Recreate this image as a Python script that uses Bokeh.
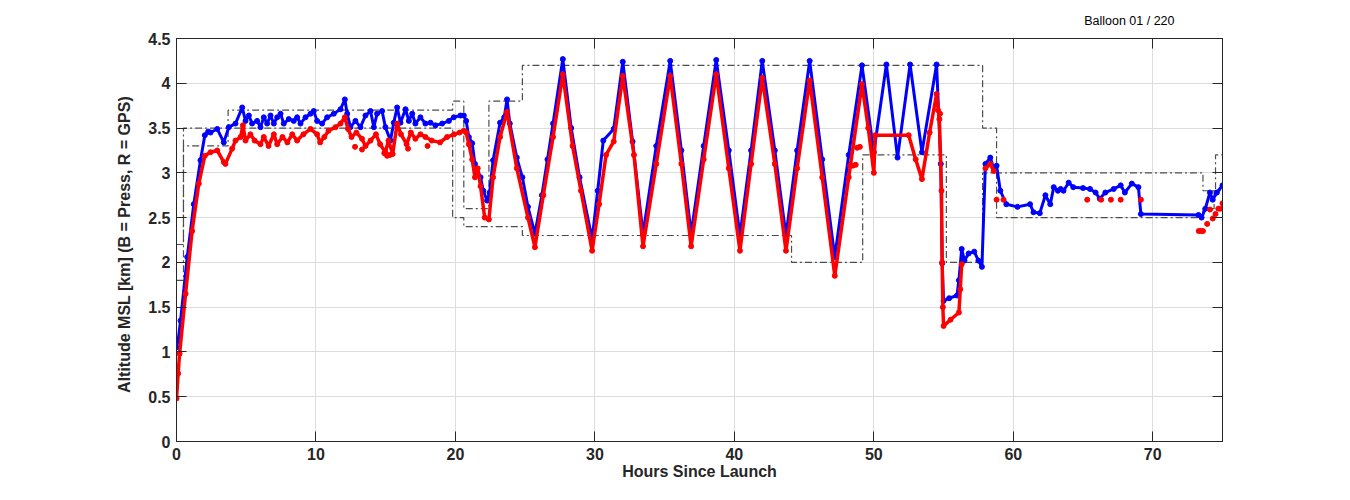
import math
from bokeh.plotting import figure
from bokeh.models import (FixedTicker, LinearAxis, CustomJSTickFormatter)
from bokeh.embed import file_html
from bokeh.resources import INLINE

NaN = float("nan")

# ---------------- data ----------------
# Pressure altitude (blue), hours since launch / km
blue_t = [0.0, 0.12, 0.29, 0.77, 1.24, 1.72, 2.03, 2.27, 2.44, 2.92, 3.39, 3.75, 4.23, 4.71, 4.95,
          5.19, 5.42, 5.78, 6.02, 6.26, 6.5, 6.74, 6.98, 7.22, 7.46, 7.69, 8.05, 8.41, 8.65, 8.89,
          9.25, 9.61, 9.84, 10.08, 10.44, 10.8, 11.28, 11.76, 12.07, 12.24, 12.47, 12.83, 13.19,
          13.55, 13.91, 14.15, 14.38, 14.74, 14.98, 15.34, 15.58, 15.82, 16.06, 16.42, 16.66, 16.9,
          17.13, 17.49, 17.85, 18.21, 18.57, 19.05, 19.53, 19.88, 20.36, 20.6, 20.77, 20.96,
          21.2, 21.4, 21.8, 22.0, 22.27, 22.45, 22.7, 23.2, 23.5, 23.7, 23.9, 24.4, 24.8, 25.2,
          25.7, 26.2, 26.6, 27.0, 27.7, 28.3, 28.9, 29.8, 30.2, 30.6, 31.35, 32.0, 32.7, 33.45,
          34.4, 35.4, 36.2, 36.9, 37.8, 38.7, 39.6, 40.4, 41.2, 42.0, 42.9, 43.7, 44.5, 45.4,
          46.3, 47.2, 48.2, 49.15, 50.0, 50.9, 51.7, 52.6, 53.45, 54.5, 54.8, 54.9, 55.0, 55.4,
          55.96, 56.1, 56.3, 56.5, 56.8, 57.2, 57.5, 57.75, 58.0, 58.35, 58.6, 58.8, 59.07, 59.5,
          60.3, 61.2, 61.45, 61.9, 62.3, 62.65, 62.9, 63.2, 63.4, 63.6, 63.97, 64.3, 65.0, 65.5,
          65.9, 66.2, 66.6, 67.2, 67.7, 68.0, 68.5, 68.97, 69.15, 73.28, 73.5, 73.77, 74.1, 74.3,
          74.6, 75.0]
blue_alt = [1.05, 1.13, 1.35, 2.06, 2.65, 3.14, 3.42, 3.46, 3.45, 3.49, 3.34, 3.51, 3.55, 3.73, 3.58,
            3.64, 3.55, 3.58, 3.51, 3.62, 3.55, 3.64, 3.55, 3.62, 3.66, 3.55, 3.60, 3.58, 3.62, 3.55,
            3.62, 3.66, 3.69, 3.58, 3.55, 3.62, 3.66, 3.71, 3.82, 3.66, 3.51, 3.58, 3.51,
            3.64, 3.69, 3.51, 3.66, 3.69, 3.51, 3.36, 3.56, 3.73, 3.56, 3.71, 3.58, 3.66,
            3.55, 3.62, 3.55, 3.56, 3.53, 3.55, 3.58, 3.62, 3.64, 3.64, 3.58, 3.40,
            3.33, 3.10, 2.95, 2.80, 2.69, 2.78, 3.14, 3.56, 3.62, 3.82, 3.55, 3.17, 2.95, 2.62,
            2.32, 2.75, 3.15, 3.55, 4.27, 3.50, 2.95, 2.26, 2.80, 3.36, 3.49, 4.24, 3.35, 2.32,
            3.30, 4.25, 3.25, 2.32, 3.30, 4.26, 3.25, 2.30, 3.25, 4.25, 3.25, 2.30, 3.25, 4.25,
            3.15, 2.06, 3.20, 4.20, 3.23, 4.21, 3.17, 4.21, 3.23, 4.21, 3.10, 1.99, 1.57, 1.60,
            1.63, 1.80, 2.15, 2.02, 2.10, 2.12, 2.02, 1.95, 3.10, 3.17, 3.05, 3.08, 2.80, 2.65,
            2.62, 2.65, 2.56, 2.55, 2.75, 2.65, 2.84, 2.80, 2.82, 2.80, 2.89, 2.84, 2.83, 2.82,
            2.78, 2.71, 2.78, 2.82, 2.86, 2.78, 2.88, 2.84, 2.54, 2.53, 2.50, 2.60, 2.78, 2.70,
            2.78, 2.86]

# GPS altitude (red); NaN marks a gap in the GPS record
red_t = [0.0, 0.12, 0.22, 0.65, 1.12, 1.6, 2.03, 2.44, 2.92, 3.39, 3.51, 3.99, 4.23, 4.6, 4.76,
         4.95, 5.3, 5.6, 6.02, 6.26, 6.6, 6.98, 7.22, 7.6, 7.95, 8.3, 8.65, 9.1, 9.61, 10.08,
         10.3, 10.6, 10.9, 11.4, 11.76, 12.07, 12.3, 12.55, 12.9, 13.3, 13.55, 13.91, 14.3, 14.6,
         14.98, 15.2, 15.5, 15.82, 16.1, 16.5, 16.8, 17.13, 17.49, 17.85, 18.3, 18.9, 19.4, 19.9,
         20.3, 20.6, 20.77, 20.96, 21.2, 21.4, 21.6, 21.8, 22.1, 22.4, 22.7, 23.2, 23.7, 24.4,
         25.2, 25.7, 26.3, 27.0, 27.7, 28.4, 29.0, 29.8, 30.3, 30.8, 31.35, 32.0, 32.8, 33.45,
         34.4, 35.4, 36.2, 36.9, 37.8, 38.7, 39.6, 40.4, 41.2, 42.0, 42.9, 43.7, 44.5, 45.4,
         46.3, 47.2, 48.2, 49.15, 49.6, 50.0, 50.1, 52.5, 53.0, 53.45, 54.0, 54.5, 54.7, 54.85,
         54.9, 54.95, 55.0, 55.5, 56.1, 56.2, 56.3, NaN, 58.0, 58.35, 58.6]
red_alt = [0.48, 0.76, 0.98, 1.65, 2.35, 2.88, 3.19, 3.23, 3.25, 3.12, 3.10, 3.27, 3.36, 3.40, 3.53,
           3.36, 3.43, 3.36, 3.32, 3.40, 3.30, 3.43, 3.32, 3.40, 3.34, 3.43, 3.36, 3.43, 3.49, 3.43,
           3.34, 3.40, 3.47, 3.51, 3.55, 3.62, 3.49, 3.40, 3.45, 3.38, 3.30, 3.36, 3.43, 3.32,
           3.23, 3.36, 3.21, 3.55, 3.43, 3.32, 3.45, 3.38, 3.43, 3.40, 3.36, 3.34, 3.40, 3.43,
           3.45, 3.47, 3.45, 3.32, 3.15, 2.95, 3.05, 2.85, 2.50, 2.48, 2.95, 3.40, 3.68, 3.05,
           2.50, 2.17, 2.75, 3.40, 4.10, 3.30, 2.80, 2.13, 2.65, 3.20, 3.35, 4.08, 3.20, 2.18,
           3.10, 4.08, 3.10, 2.18, 3.15, 4.10, 3.05, 2.13, 3.10, 4.06, 3.10, 2.13, 3.05, 4.03,
           2.95, 1.85, 2.95, 3.99, 3.50, 3.00, 3.42, 3.42, 3.15, 2.93, 3.45, 3.88, 3.60, 2.80,
           2.00, 1.50, 1.29, 1.36, 1.44, 1.70, 1.98, NaN, 3.05, 3.10, 3.02]

# isolated GPS fixes
red_dot_t = [12.8, 13.3, 14.9, 15.1, 15.3, 16.6, 18.0, 48.3, 48.5, 48.7, 48.8, 49.0, 54.6, 54.75,
             58.8, 59.3, 65.3, 66.3, 67.0, 67.7, 69.15, 73.3, 73.45, 73.6, 73.9, 74.1, 74.3, 74.5,
             74.7, 74.85, 75.0]
red_dot_alt = [3.29, 3.26, 3.22, 3.19, 3.20, 3.27, 3.30, 3.08, 3.08, 3.09, 3.28, 3.29, 3.70, 3.66,
               2.70, 2.70, 2.70, 2.70, 2.70, 2.70, 2.70, 2.35, 2.35, 2.35, 2.43, 2.59, 2.49, 2.54,
               2.60, 2.60, 2.66]

# altitude envelope (upper / lower limits), step changes
upper_t = [0.0, 0.5, 3.7, 19.8, 20.6, 22.4, 24.8, 57.8, 58.8, 73.6, 74.5, 75.0]
upper_v = [2.2, 3.5, 3.7, 3.8, 2.6, 3.8, 4.2, 3.5, 3.0, 2.8, 3.2, 3.2]
lower_t = [0.0, 0.5, 3.7, 19.8, 20.6, 24.8, 44.1, 49.2, 55.2, 57.8, 58.8, 73.6, 74.4, 75.0]
lower_v = [1.8, 3.3, 3.5, 2.5, 2.4, 2.3, 2.0, 3.2, 2.0, 3.0, 2.5, 2.6, 2.8, 2.8]

x_ticks = [0, 10, 20, 30, 40, 50, 60, 70]
y_ticks = [0, 0.5, 1, 1.5, 2, 2.5, 3, 3.5, 4, 4.5]

title_text = "Balloon 01 / 220"
x_label = "Hours Since Launch"
y_label = "Altitude MSL [km]   (B = Press, R = GPS)"

# ---------------- figure ----------------
AX = "#262626"
FONT = "Liberation Sans"

p = figure(width=1334, height=484, x_range=(0, 75), y_range=(0, 4.5),
           output_backend="svg", toolbar_location=None, title=title_text,
           min_border_left=176, min_border_right=112, min_border_top=38, min_border_bottom=43)
p.background_fill_color = "white"
p.border_fill_color = "white"
p.outline_line_color = AX
p.outline_line_width = 1

p.title.align = "right"
p.title.offset = 48
p.title.text_font = FONT
p.title.text_font_style = "normal"
p.title.text_font_size = "12.5px"
p.title.text_color = "#000000"
p.title.standoff = 21

fmt = CustomJSTickFormatter(code="return tick.toString();")
blank = CustomJSTickFormatter(code="return '';")

for ax, ticks in ((p.xaxis[0], x_ticks), (p.yaxis[0], y_ticks)):
    ax.ticker = FixedTicker(ticks=ticks)
    ax.formatter = fmt
    ax.major_tick_in = 10
    ax.major_tick_out = 0
    ax.minor_tick_line_color = None
    ax.axis_line_color = AX
    ax.major_tick_line_color = AX
    ax.major_label_text_font = FONT
    ax.major_label_text_font_style = "bold"
    ax.major_label_text_font_size = "16px"
    ax.major_label_text_color = AX
    ax.axis_label_text_font = FONT
    ax.axis_label_text_font_style = "bold"
    ax.axis_label_text_font_size = "16px"
    ax.axis_label_text_color = AX

p.xaxis[0].axis_label = x_label
p.yaxis[0].axis_label = y_label
p.xaxis[0].major_label_standoff = 6
p.xaxis[0].axis_label_standoff = 0
p.yaxis[0].major_label_standoff = 6
p.yaxis[0].axis_label_standoff = 12

top = LinearAxis(ticker=FixedTicker(ticks=x_ticks), formatter=blank)
right = LinearAxis(ticker=FixedTicker(ticks=y_ticks), formatter=blank)
for ax in (top, right):
    ax.major_tick_in = 10
    ax.major_tick_out = 0
    ax.minor_tick_line_color = None
    ax.axis_line_color = AX
    ax.major_tick_line_color = AX
    ax.major_label_standoff = 0
p.add_layout(top, "above")
p.add_layout(right, "right")

p.xgrid.ticker = FixedTicker(ticks=x_ticks)
p.ygrid.ticker = FixedTicker(ticks=y_ticks)
p.xgrid.grid_line_color = "#dcdcdc"
p.ygrid.grid_line_color = "#dcdcdc"

# envelope
p.step(upper_t, upper_v, mode="after", line_color="#4d4d4d", line_width=1.2, line_dash="7 3 2 3")
p.step(lower_t, lower_v, mode="after", line_color="#4d4d4d", line_width=1.2, line_dash="7 3 2 3")

# pressure altitude
p.line(blue_t, blue_alt, line_color="#0000ff", line_width=3)
p.scatter(blue_t, blue_alt, size=5, color="#0000ff")

# GPS altitude
p.line(red_t, red_alt, line_color="#ff0000", line_width=3.5)
p.scatter(red_t, red_alt, size=5, color="#ff0000")
p.scatter(red_dot_t, red_dot_alt, size=5, color="#ff0000")

open("out.html", "w").write(file_html(p, INLINE))
